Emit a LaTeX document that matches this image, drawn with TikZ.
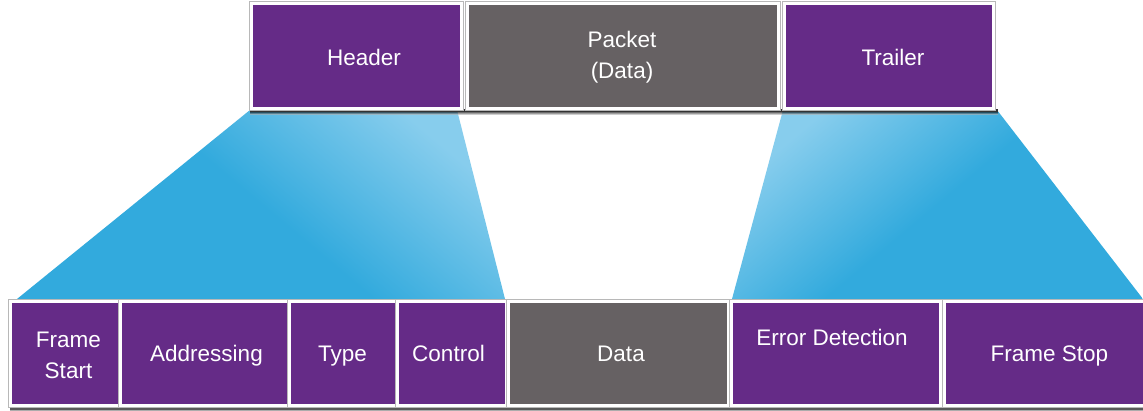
\documentclass[tikz,border=0pt]{standalone}
\usepackage{fontspec}
\setmainfont{Liberation Sans}
\definecolor{cpurple}{RGB}{101,43,135}
\definecolor{cgray}{RGB}{102,97,99}
\definecolor{cblue}{RGB}{50,170,221}
\definecolor{clight}{RGB}{135,205,237}
\begin{document}
\begin{tikzpicture}[x=1pt,y=-1pt,
  box/.style={draw=white, line width=3pt, inner sep=0pt, outer sep=0pt, anchor=north west,
    preaction={draw=black!28, line width=4.4pt}},
  pbox/.style={box, fill=cpurple},
  gbox/.style={box, fill=cgray},
  lbl/.style={text=white, font=\fontsize{22.5}{30}\selectfont, anchor=base, inner sep=0pt},
  cone/.style={top color=clight, bottom color=cblue, middle color=cblue}]
\useasboundingbox (0,0) rectangle (1143,411);
\fill[white] (0,0) rectangle (1143,411);
% cones
\path[cone, shading angle=-40] (250,110) -- (457,110) -- (505,299) -- (17,299) -- cycle;
\path[cone, shading angle=40] (783,110) -- (997,110) -- (1143,299) -- (732,299) -- cycle;
% shadows
\fill[black!80] (250,109) rectangle (998,112.5);
\shade[top color=black!80, bottom color=black!0, opacity=0.6] (250,112.5) rectangle (998,115);
\fill[black!65] (10,405) rectangle (1143,409);
\shade[top color=black!65, bottom color=white] (10,409) rectangle (1143,411);
% top row
\node[pbox, minimum width=210pt, minimum height=105pt] (hdr) at (251.5,3.5) {};
\node[gbox, minimum width=311pt, minimum height=105pt] (pkt) at (467.5,3.5) {};
\node[pbox, minimum width=209pt, minimum height=105pt] (trl) at (784.5,3.5) {};
% bottom row
\node[pbox, minimum width=109pt, minimum height=104pt] (fs) at (10.5,301.5) {};
\node[pbox, minimum width=168pt, minimum height=104pt] (adr) at (120.5,301.5) {};
\node[pbox, minimum width=108pt, minimum height=104pt] (typ) at (289.5,301.5) {};
\node[pbox, minimum width=109pt, minimum height=104pt] (ctl) at (397.5,301.5) {};
\node[gbox, minimum width=220pt, minimum height=104pt] (dat) at (508.5,301.5) {};
\node[pbox, minimum width=209pt, minimum height=104pt] (err) at (731.5,301.5) {};
\node[pbox, minimum width=210pt, minimum height=104pt] (fst) at (944.5,301.5) {};
% labels
\node[lbl] (thdr) at (364,66) {Header};
\node[lbl] (tpk1) at (622,48) {Packet};
\node[lbl] (tpk2) at (622,79) {(Data)};
\node[lbl] (ttrl) at (893,66) {Trailer};
\node[lbl] (tfs1) at (68.5,348) {Frame};
\node[lbl] (tfs2) at (68.5,379) {Start};
\node[lbl] (tadr) at (206.5,362) {Addressing};
\node[lbl] (ttyp) at (342.5,362) {Type};
\node[lbl] (tctl) at (448.5,362) {Control};
\node[lbl] (tdat) at (621,362) {Data};
\node[lbl] (terr) at (832,346) {Error Detection};
\node[lbl] (tfst) at (1049.5,362) {Frame Stop};
\end{tikzpicture}
\end{document}
